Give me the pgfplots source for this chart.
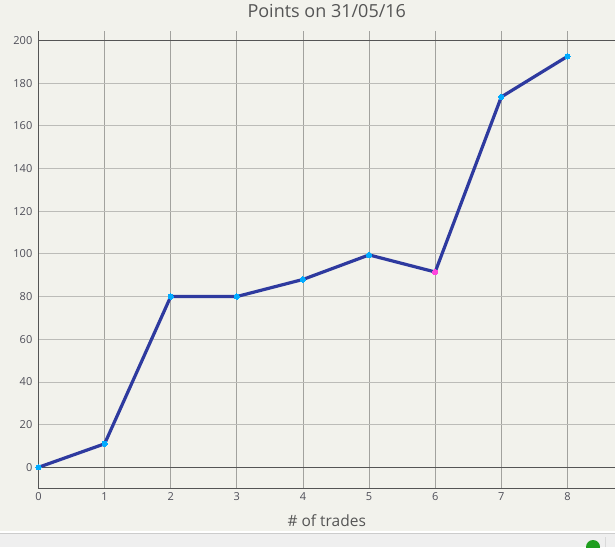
\documentclass[border=0pt]{standalone}
\usepackage{pgfplots}
\pgfplotsset{compat=1.18}
\usepackage{fontspec}
\setmainfont{Open Sans}
\definecolor{bg}{HTML}{F2F2EC}
\definecolor{barc}{HTML}{EFEFEF}
\definecolor{linec}{HTML}{2E3A9F}
\definecolor{markc}{HTML}{00AAFF}
\definecolor{markm}{HTML}{FF44DD}
\definecolor{gridc}{HTML}{ABABA6}
\definecolor{axisc}{HTML}{555555}
\definecolor{txtc}{HTML}{4E4E58}
\definecolor{greenc}{HTML}{1E9E1E}
\begin{document}
\begin{tikzpicture}
\begin{scope}
\clip (0pt,0pt) rectangle (615pt,547pt);
\fill[bg] (0pt,0pt) rectangle (615pt,547pt);
\fill[barc] (0pt,0pt) rectangle (615pt,13.4pt);
\fill[white] (0pt,14.3pt) rectangle (615pt,16pt);
\draw[black!20, line width=0.9pt] (0pt,13.8pt) -- (615pt,13.8pt);
\draw[black!15, line width=0.8pt] (605.7pt,0pt) -- (605.7pt,10pt);
\fill[greenc] (593pt,0pt) circle (7pt);
\end{scope}
\begin{axis}[
  at={(38.5pt,59pt)}, anchor=south west,
  scale only axis, width=576.5pt, height=457pt,
  xmin=0, xmax=8.72, ymin=-9.7, ymax=204.4,
  axis x line=bottom, axis y line=left,
  axis line style={-, draw=axisc, line width=0.9pt},
  xtick={0,...,8}, ytick={0,20,...,200},
  major tick length=0pt,
  grid=major,
  x grid style={draw=gridc!95!black, line width=0.7pt},
  y grid style={draw=gridc!80!white, line width=0.7pt},
  tick label style={font=\fontsize{11}{13}\selectfont, text=txtc},
  xticklabel style={anchor=base, yshift=-12pt, inner sep=0pt},
  yticklabel style={anchor=east, xshift=-6pt, inner sep=0pt},
  /pgf/number format/assume math mode=true,
  title={Points on 31/05/16},
  title style={at={(axis description cs:0.5,1)}, anchor=base, yshift=8pt, font=\fontsize{18}{21}\selectfont, text=axisc},
  xlabel={\# of trades},
  xlabel style={at={(axis description cs:0.5,0)}, anchor=base, yshift=-38.7pt, font=\fontsize{15.5}{18}\selectfont, text=axisc},
  clip=false,
]
\draw[axisc, line width=0.9pt] (axis cs:0,0) -- (axis cs:8.72,0);
\draw[axisc, line width=0.9pt] (axis cs:0,200) -- (axis cs:8.72,200);
\addplot[linec, line width=3.2pt, line join=round, mark=*, mark size=2.6pt, mark options={draw=markc, fill=markc, line width=0pt}]
  coordinates {(0,0) (1,11) (2,80) (3,80) (4,88) (5,99.5) (6,91.5) (7,173.5) (8,192.5)};
\addplot[only marks, mark=*, mark size=2.6pt, mark options={draw=markm, fill=markm, line width=0pt}]
  coordinates {(6,91.5)};
\end{axis}
\pgfresetboundingbox
\path (0pt,0pt) rectangle (615pt,547pt);
\end{tikzpicture}
\end{document}
